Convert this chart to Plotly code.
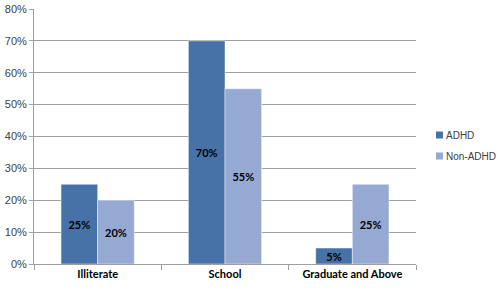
import plotly.graph_objects as go

categories = ["Illiterate", "School", "Graduate and Above"]
adhd = [0.25, 0.70, 0.05]
non_adhd = [0.20, 0.55, 0.25]
series_names = ["ADHD", "Non-ADHD"]
colors = ["#4672A8", "#95A9D3"]

W, H = 500, 290
ML, MR, MT, MB = 34, 84, 9, 26
PW, PH = W - ML - MR, H - MT - MB

def px_x(p):
    return (p - ML) / PW

def px_y(p):
    return (H - MB - p) / PH

fig = go.Figure()
for name, vals, col in zip(series_names, [adhd, non_adhd], colors):
    fig.add_trace(go.Bar(
        x=categories, y=vals, name=name, showlegend=False,
        marker=dict(color=col, line=dict(color="rgba(255,255,255,0.45)", width=1)),
        texttemplate="%{y:.0%}", textposition="inside", insidetextanchor="middle",
        constraintext="none",
        textfont=dict(family="Lato, Open Sans, sans-serif", size=11, color="black", weight="bold"),
    ))

legend_rows_y = [135, 156]
shapes = []
annotations = []
for name, col, yy in zip(series_names, colors, legend_rows_y):
    shapes.append(dict(type="rect", xref="paper", yref="paper",
                       x0=px_x(436), x1=px_x(443), y0=px_y(yy + 3.5), y1=px_y(yy - 3.5),
                       fillcolor=col, line=dict(width=0)))
    annotations.append(dict(xref="paper", yref="paper", x=px_x(444), y=px_y(yy),
                            xanchor="left", yanchor="middle", showarrow=False, text=name,
                            font=dict(family="Liberation Sans, Arial, sans-serif", size=10,
                                      color="#404040")))

fig.update_layout(
    width=W, height=H,
    margin=dict(l=ML, r=MR, t=MT, b=MB, autoexpand=False),
    plot_bgcolor="white", paper_bgcolor="white",
    barmode="group", bargap=0.425, bargroupgap=0,
    showlegend=False,
    shapes=shapes, annotations=annotations,
)
fig.update_yaxes(
    range=[0, 0.8], dtick=0.1, tickformat=".0%", automargin=False,
    showgrid=True, gridcolor="#A0A0A0", gridwidth=1,
    showline=True, linecolor="#A0A0A0", linewidth=1,
    ticks="outside", ticklen=4, tickcolor="#A0A0A0",
    tickfont=dict(family="Liberation Sans, Arial, sans-serif", size=11, color="#404040"),
    zeroline=False,
)
fig.update_xaxes(
    automargin=False,
    showline=True, linecolor="#A0A0A0", linewidth=1,
    ticks="outside", tickson="boundaries", ticklen=5, tickcolor="#A0A0A0",
    tickfont=dict(family="Lato, Open Sans, sans-serif", size=11, color="black", weight="bold"),
)

fig.write_html("out.html", config={"displayModeBar": False},
               post_script="document.body.style.margin='0';")
